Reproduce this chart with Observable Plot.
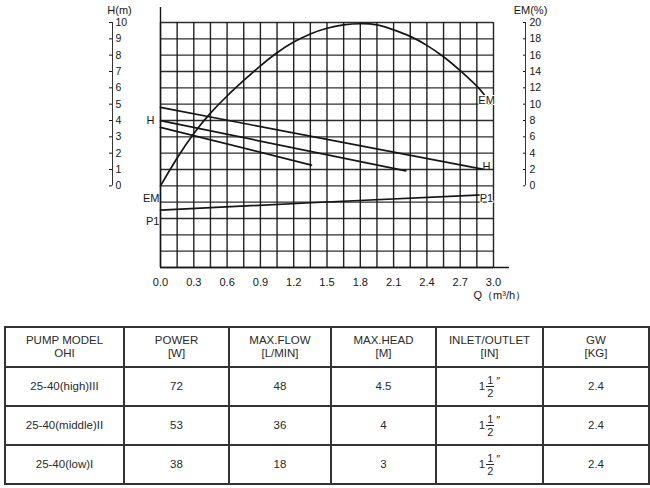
<!DOCTYPE html>
<html><head><meta charset="utf-8">
<script src="https://cdn.jsdelivr.net/npm/d3@7"></script>
<script src="https://cdn.jsdelivr.net/npm/@observablehq/plot@0.6"></script>
<style>
body{margin:0;background:#fff;font-family:"Liberation Sans",Arial,sans-serif;width:650px;height:488px;overflow:hidden;position:relative;}
#chart{position:absolute;left:0;top:0;}
#tbl{position:absolute;left:4px;top:326px;}
table{border-collapse:collapse;table-layout:fixed;color:#2a2a2a;font-size:11.5px;}
td,th{border:2px solid #333;text-align:center;vertical-align:middle;padding:0;font-weight:normal;line-height:13px;}
th{height:38px;}
td{height:37px;}
.frac{display:inline-block;vertical-align:middle;text-align:center;font-size:11px;line-height:12.5px;margin-left:1px;}
.frac span{display:block;}
.frac .num{border-bottom:1px solid #2a2a2a;padding:0 1px;}
.sup{vertical-align:5px;font-size:11px;margin-left:2px;}
</style></head><body>
<div id="chart"></div>
<div id="tbl"></div>
<script>
// ---- chart data ----
const qTicks = [0, 0.3, 0.6, 0.9, 1.2, 1.5, 1.8, 2.1, 2.4, 2.7, 3.0];
const qGrid = [0, 0.15, 0.3, 0.45, 0.6, 0.75, 0.9, 1.05, 1.2, 1.35, 1.5, 1.65, 1.8, 1.95, 2.1, 2.25, 2.4, 2.55, 2.7, 2.85, 3.0];
const hGrid = [-5, -4, -3, -2, -1, 0, 1, 2, 3, 4, 5, 6, 7, 8, 9, 10];
const hTicks = [0, 1, 2, 3, 4, 5, 6, 7, 8, 9, 10];
const emTickLabels = [0, 2, 4, 6, 8, 10, 12, 14, 16, 18, 20];

// EM efficiency curve (%)
const emQ   = [0, 0.15, 0.3, 0.45, 0.6, 0.75, 0.9, 1.05, 1.2, 1.35, 1.5, 1.65, 1.8, 1.95, 2.1, 2.25, 2.4, 2.55, 2.7, 2.85, 2.92];
const emPct = [0, 3.4, 6.4, 8.9, 11.0, 12.9, 14.7, 16.3, 17.6, 18.6, 19.3, 19.7, 19.85, 19.7, 19.1, 18.3, 17.2, 15.8, 14.1, 12.2, 11.1];

// H (head, m) lines for high / middle / low speed
const hHighQ = [0, 2.9],  hHighH = [4.8, 1.02];
const hMidQ  = [0, 2.21], hMidH  = [3.99, 0.92];
const hLowQ  = [0, 1.36], hLowH  = [3.58, 1.27];

// P1 power line (drawn in chart units, no own axis)
const p1Q = [0, 1.4, 2.9];
const p1V = [-1.49, -1.02, -0.55];

const zip = (xs, ys, k) => xs.map((x, i) => ({q: x, [k]: ys[i]}));
const em = zip(emQ, emPct, "v");
const hHigh = zip(hHighQ, hHighH, "v");
const hMid = zip(hMidQ, hMidH, "v");
const hLow = zip(hLowQ, hLowH, "v");
const p1 = zip(p1Q, p1V, "v");

const ink = "#161616";
const font = "'Liberation Sans', Arial, sans-serif";

const chart = Plot.plot({
  width: 650,
  height: 325,
  marginLeft: 160,
  marginRight: 157,
  marginTop: 22,
  marginBottom: 58,
  style: {fontFamily: font, fontSize: "11px", color: ink, background: "#fff"},
  x: {domain: [0, 3]},
  y: {domain: [-5, 10]},
  marks: [
    Plot.ruleX(qGrid, {y1: -5, y2: 10, stroke: ink, strokeWidth: 1.4, strokeOpacity: 0.95}),
    Plot.ruleY(hGrid, {x1: 0, x2: 3, stroke: ink, strokeWidth: 1.4, strokeOpacity: 0.9}),
    Plot.ruleX([0], {stroke: ink, strokeWidth: 1.4, insetTop: -15}),
    Plot.ruleY([-5], {stroke: ink, strokeWidth: 1.4, insetRight: -16}),
    // left H(m) axis
    Plot.ruleX([0], {y1: 0, y2: 10, dx: -48, stroke: "#333", strokeWidth: 1}),
    Plot.axisY(hTicks, {anchor: "left", dx: -48, tickSize: 3, tickPadding: -6, textAnchor: "start", label: null, fontSize: 10.5}),
    Plot.text(["H(m)"], {x: 0, y: 10, dx: -41, dy: -12, fontSize: 11, fill: ink}),
    // right EM(%) axis
    Plot.ruleX([3], {y1: 0, y2: 10, dx: 32, stroke: "#333", strokeWidth: 1}),
    Plot.axisY(hTicks, {anchor: "left", dx: 365, tickSize: 2, tickPadding: -6, textAnchor: "start", label: null, fontSize: 10.5, tickFormat: (d, i) => String(emTickLabels[i])}),
    Plot.text(["EM(%)"], {x: 3, y: 10, dx: 37, dy: -12, fontSize: 11, fill: ink}),
    // x axis
    Plot.axisX(qTicks, {anchor: "bottom", tickSize: 0, tickPadding: 11, tickFormat: d3.format(".1f"), label: null, fontSize: 11}),
    Plot.text(["Q（m³/h）"], {x: 3, y: -5, dx: -20, dy: 28, textAnchor: "start", fontSize: 11, fill: ink}),
    // curves
    Plot.line(em, {x: "q", y: d => d.v / 2, curve: "natural", stroke: ink, strokeWidth: 1.7}),
    Plot.line(hHigh, {x: "q", y: "v", stroke: ink, strokeWidth: 1.7}),
    Plot.line(hMid, {x: "q", y: "v", stroke: ink, strokeWidth: 1.7}),
    Plot.line(hLow, {x: "q", y: "v", stroke: ink, strokeWidth: 1.7}),
    Plot.line(p1, {x: "q", y: "v", curve: "natural", stroke: ink, strokeWidth: 1.7}),
    // curve labels
    Plot.text([em[em.length - 1]], {x: "q", y: d => d.v / 2, text: () => "EM", dx: 2, dy: 5, fontSize: 11, fill: ink, stroke: "#fff", strokeWidth: 2}),
    Plot.text([hHigh[1]], {x: "q", y: "v", text: () => "H", dx: 4, dy: -3, fontSize: 11, fill: ink}),
    Plot.text([p1[p1.length - 1]], {x: "q", y: "v", text: () => "P1", dx: 4, dy: 4, fontSize: 11, fill: ink, stroke: "#fff", strokeWidth: 2}),
    Plot.text([hMid[0]], {x: "q", y: "v", text: () => "H", dx: -10, fontSize: 11, fill: ink}),
    Plot.text([p1[0]], {x: "q", y: "v", text: () => "EM", dx: -1, dy: -12, textAnchor: "end", fontSize: 11, fill: ink}),
    Plot.text([p1[0]], {x: "q", y: "v", text: () => "P1", dx: -1, dy: 11, textAnchor: "end", fontSize: 11, fill: ink})
  ]
});
document.getElementById("chart").appendChild(chart);

// ---- table data ----
const headers = [["PUMP MODEL", "OHI"], ["POWER", "[W]"], ["MAX.FLOW", "[L/MIN]"], ["MAX.HEAD", "[M]"], ["INLET/OUTLET", "[IN]"], ["GW", "[KG]"]];
const colWidths = [119, 105, 102, 105, 107, 106];
const models = ["25-40(high)III", "25-40(middle)II", "25-40(low)I"];
const power = [72, 53, 38];
const maxFlow = [48, 36, 18];
const maxHead = [4.5, 4, 3];
const inletWhole = [1, 1, 1], inletNum = [1, 1, 1], inletDen = [2, 2, 2];
const gw = [2.4, 2.4, 2.4];

let html = "<table><colgroup>" + colWidths.map(w => `<col style="width:${w}px">`).join("") + "</colgroup><tr>";
html += headers.map(h => `<th>${h[0]}<br>${h[1]}</th>`).join("") + "</tr>";
models.forEach((m, i) => {
  const inlet = `${inletWhole[i]}<span class="frac"><span class="num">${inletNum[i]}</span><span>${inletDen[i]}</span></span><span class="sup">″</span>`;
  html += `<tr><td>${m}</td><td>${power[i]}</td><td>${maxFlow[i]}</td><td>${d3.format(".1~f")(maxHead[i])}</td><td>${inlet}</td><td>${d3.format(".1f")(gw[i])}</td></tr>`;
});
html += "</table>";
document.getElementById("tbl").innerHTML = html;
</script>
</body></html>
